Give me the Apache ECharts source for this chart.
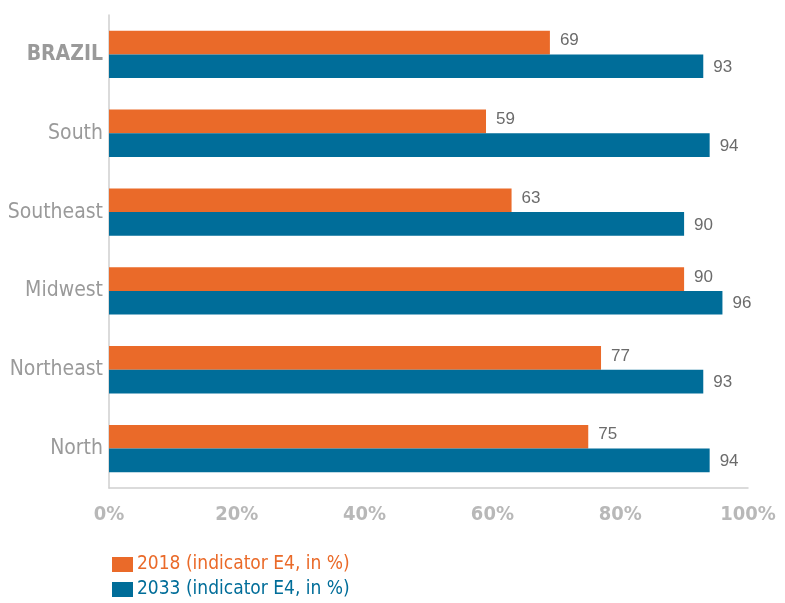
<!DOCTYPE html>
<html>
<head>
<meta charset="utf-8">
<script src="https://cdn.jsdelivr.net/npm/echarts@6/dist/echarts.min.js"></script>
<style>
  html, body { margin: 0; padding: 0; background: #fff; }
  #chart { width: 785px; height: 603px; }
</style>
</head>
<body>
<div id="chart"></div>
<script>
  const regions = ["BRAZIL", "South", "Southeast", "Midwest", "Northeast", "North"]
  const values2018 = [69, 59, 63, 90, 77, 75]
  const values2033 = [93, 94, 90, 96, 93, 94]
  const xTicks = [0, 20, 40, 60, 80, 100]
  const seriesNames = ["2018 (indicator E4, in %)", "2033 (indicator E4, in %)"]

  const narrow = "'Liberation Sans Narrow', 'DejaVu Sans Condensed', 'Arial Narrow', sans-serif"
  const orange = "#ea6a29"
  const blue = "#006d99"

  const chart = echarts.init(document.getElementById("chart"))

  // one legend per row, so the two entries stack like the original
  const legendRow = (name, color, top) => ({
    left: 107,
    top: top,
    itemWidth: 21,
    itemHeight: 15,
    icon: "rect",
    textStyle: { fontFamily: narrow, fontSize: 19, color: color, padding: [0, 0, 0, -1] },
    data: [name]
  })

  const valueLabel = (dy) => ({
    show: true,
    position: "right",
    distance: 10,
    offset: [0, dy],
    color: "#6b6b6b",
    fontFamily: "'Liberation Sans', Arial, sans-serif",
    fontSize: 17
  })

  const option = {
    animation: false,
    grid: { left: 109, right: 37, top: 15, bottom: 115, outerBoundsMode: "none", containLabel: false },
    legend: [
      legendRow(seriesNames[0], orange, 550),
      legendRow(seriesNames[1], blue, 575)
    ],
    xAxis: {
      type: "value",
      min: xTicks[0],
      max: xTicks[xTicks.length - 1],
      interval: 20,
      axisLine: { show: true, lineStyle: { color: "#cfcfcf", width: 1.5 } },
      axisTick: { show: false },
      splitLine: { show: false },
      axisLabel: {
        formatter: "{value}%",
        color: "#b8b8b8",
        fontFamily: narrow,
        fontWeight: "bold",
        fontSize: 20,
        margin: 17
      }
    },
    yAxis: {
      type: "category",
      inverse: true,
      data: regions,
      axisLine: { show: true, lineStyle: { color: "#cfcfcf", width: 1.5 } },
      axisTick: { show: false },
      axisLabel: {
        margin: 6,
        color: "#9a9a9a",
        fontFamily: narrow,
        fontSize: 21,
        formatter: (v, i) => (i === 0 ? "{b|" + v + "}" : v),
        rich: {
          b: { fontFamily: narrow, fontSize: 21, fontWeight: "bold", color: "#9a9a9a" }
        }
      }
    },
    series: [
      {
        name: seriesNames[0],
        type: "bar",
        data: values2018,
        barGap: "0%",
        barCategoryGap: "40%",
        itemStyle: { color: orange },
        label: valueLabel(-2)
      },
      {
        name: seriesNames[1],
        type: "bar",
        data: values2033,
        itemStyle: { color: blue },
        label: valueLabel(1)
      }
    ]
  }

  chart.setOption(option)
</script>
</body>
</html>
